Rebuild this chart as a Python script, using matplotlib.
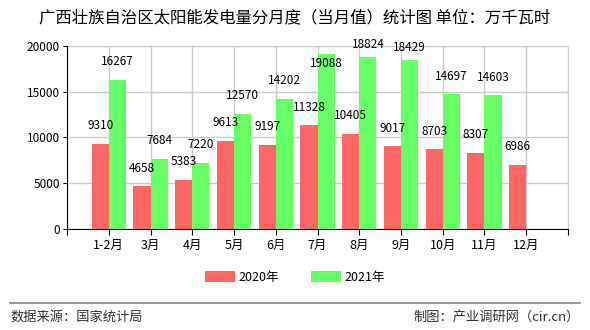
import numpy as np
import matplotlib.pyplot as plt

plt.rcParams['font.family'] = ['Noto Sans CJK SC', 'DejaVu Sans']

# data
months = ['1-2月', '3月', '4月', '5月', '6月', '7月', '8月', '9月', '10月', '11月', '12月']
v2020 = [9310, 4658, 5383, 9613, 9197, 11328, 10405, 9017, 8703, 8307, 6986]
v2021 = [16267, 7684, 7220, 12570, 14202, 19088, 18824, 18429, 14697, 14603, None]

red = '#ff6666'
green = '#66ff66'
w = 0.41

fig = plt.figure(figsize=(5.9, 3.3), dpi=100)
ax = fig.add_axes([0.1136, 0.306, 0.8491, 0.555])

x = np.arange(1, len(months) + 1)
b1 = ax.bar(x - w / 2, v2020, w, color=red, label='2020年', zorder=3)
x21 = [xi for xi, v in zip(x, v2021) if v is not None]
y21 = [v for v in v2021 if v is not None]
b2 = ax.bar(np.array(x21) + w / 2, y21, w, color=green, label='2021年', zorder=3)

#value labels
for xi, v in zip(x, v2020):
    ax.annotate(str(v), (xi - w / 2, v), xytext=(0, 13), textcoords='offset points',
                ha='center', va='center', fontsize=8.5, zorder=4)
for xi, v in zip(x21, y21):
    off = 13
    if v > 19000:
        off = -7  # label sits inside the tallest bar in the original
    elif v > 18000:
        off = 9
    ax.annotate(str(v), (xi + w / 2, v), xytext=(0, off), textcoords='offset points',
                ha='center', va='center', fontsize=8.5, zorder=4)

ax.set_xlim(0, 12)
ax.set_ylim(0, 20000)
ax.set_xticks(np.arange(0, 13))
ax.set_xticklabels([''] + months + [''], fontsize=9)
ax.set_yticks([0, 5000, 10000, 15000, 20000])
ax.tick_params(axis='y', labelsize=8.5, length=3, pad=2)
ax.tick_params(axis='x', length=4, pad=3)
ax.grid(color='#cccccc', linewidth=1, zorder=0)
for s in ['top', 'right']:
    ax.spines[s].set_color('#cccccc')
for s in ['left', 'bottom']:
    ax.spines[s].set_color('black')
    ax.spines[s].set_zorder(5)

fig.text(0.5, 0.945, '广西壮族自治区太阳能发电量分月度（当月值）统计图 单位：万千瓦时',
         ha='center', va='center', fontsize=11.8)

fig.legend(handles=[b1, b2], loc='center', bbox_to_anchor=(0.5, 0.16), ncol=2,
           frameon=False, fontsize=9, handlelength=2.4, handleheight=1.0,
           columnspacing=2.5, handletextpad=0.3)

fig.add_artist(plt.Line2D([0.017, 0.983], [0.082, 0.082], color='#888888', linewidth=1.2))
fig.text(0.017, 0.04, '数据来源：国家统计局', ha='left', va='center', fontsize=9.5, color='#333333')
fig.text(0.983, 0.04, '制图：产业调研网（cir.cn）', ha='right', va='center', fontsize=9.5, color='#333333')

fig.savefig('out.png', dpi=100)
